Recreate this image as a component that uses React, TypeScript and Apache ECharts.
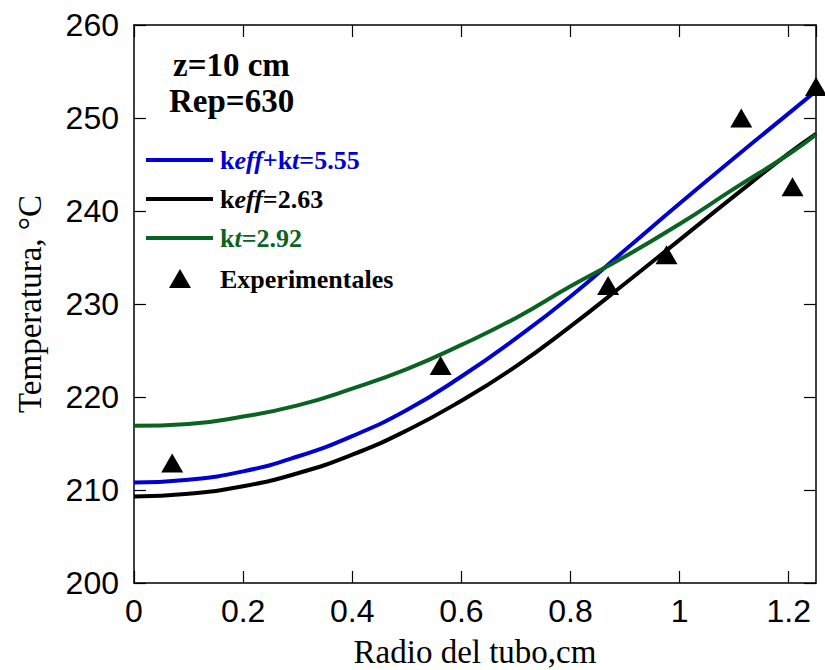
import React, { useEffect, useRef } from "react";
import * as echarts from "echarts";

// Radius (cm) for the model curves
const radius = [0, 0.1, 0.2, 0.3, 0.4, 0.5, 0.6, 0.7, 0.8, 0.9, 1.0, 1.1, 1.2, 1.25];
// keff+kt=5.55 (blue)
const tempKeffKt = [210.8, 211.1, 212.0, 213.6, 215.8, 218.6, 222.2, 226.3, 230.8, 235.8, 240.8, 245.7, 250.5, 252.9];
// keff=2.63 (black)
const tempKeff = [209.3, 209.6, 210.4, 211.8, 213.8, 216.4, 219.6, 223.3, 227.6, 232.2, 236.9, 241.6, 246.2, 248.3];
// kt=2.92 (green)
const tempKt = [216.9, 217.1, 217.9, 219.1, 220.9, 223.0, 225.6, 228.5, 231.9, 235.1, 238.6, 242.4, 246.1, 248.2];
// Experimental points
const expRadius = [0.07, 0.562, 0.869, 0.976, 1.113, 1.207, 1.25];
const expTemp = [212.9, 223.4, 232.0, 235.3, 250.0, 242.6, 253.4];

const seriesNames = ["keff+kt=5.55", "keff=2.63", "kt=2.92", "Experimentales"];
const annotations = ["z=10 cm", "Rep=630"];

const BLUE = "#0000d2";
const BLACK = "#000000";
const GREEN = "#0b6322";
const SERIF = '"Liberation Serif", "Times New Roman", serif';
const SANS = '"Liberation Sans", Arial, sans-serif';

const pair = (xs: number[], ys: number[]) => xs.map((x, i) => [x, ys[i]]);

export default function App() {
  const ref = useRef<HTMLDivElement>(null);
  useEffect(() => {
    if (!ref.current) return;
    const chart = echarts.init(ref.current, null, { renderer: "svg" });
    const axisCommon = {
      axisLine: { show: true, onZero: false, lineStyle: { color: "#000", width: 1.5 } },
      axisTick: { show: true, inside: true, length: 12, lineStyle: { color: "#000", width: 1.2 } },
      splitLine: { show: false },
    };
    const xFmt = (v: number) => {
      const k = v / 0.2;
      if (Math.abs(k - Math.round(k)) > 1e-6) return "";
      return String(Math.round(v * 10) / 10);
    };
    const legendText = (y: number, text: string, rich: any, fill: string) => ({
      type: "text",
      x: 220,
      y,
      style: {
        text,
        rich,
        fill,
        fontFamily: SERIF,
        fontSize: 26,
        fontWeight: "bold",
        align: "left",
        verticalAlign: "middle",
        textAlign: "left",
        textVerticalAlign: "middle",
      },
    });
    const richFor = (fill: string) => ({
      n: { fill, color: fill, fontFamily: SERIF, fontSize: 26, fontWeight: "bold", fontStyle: "normal" },
      i: { fill, color: fill, fontFamily: SERIF, fontSize: 26, fontWeight: "bold", fontStyle: "italic" },
    });
    const annotation = (x: number, y: number, text: string) => ({
      type: "text",
      x,
      y,
      style: {
        text,
        fill: "#000",
        fontFamily: SERIF,
        fontSize: 33,
        fontWeight: "bold",
        align: "left",
        verticalAlign: "middle",
        textAlign: "left",
        textVerticalAlign: "middle",
      },
    });
    chart.setOption({
      animation: false,
      backgroundColor: "#fff",
      grid: { left: 134, right: 9, top: 25, bottom: 87, containLabel: false, outerBoundsMode: "none" },
      xAxis: [
        {
          type: "value",
          min: 0,
          max: 1.25,
          interval: 0.2,
          position: "bottom",
          ...axisCommon,
          axisLabel: {
            show: true,
            formatter: xFmt,
            fontSize: 32,
            fontFamily: SANS,
            color: "#000",
            margin: 12,
            showMaxLabel: false,
          },
          name: "Radio del tubo,cm",
          nameLocation: "middle",
          nameGap: 52,
          nameTextStyle: { fontFamily: SERIF, fontSize: 33, color: "#000", lineHeight: 33 },
        },
        {
          type: "value",
          min: 0,
          max: 1.25,
          interval: 0.2,
          position: "top",
          ...axisCommon,
          axisLabel: { show: false },
        },
      ],
      yAxis: [
        {
          type: "value",
          min: 200,
          max: 260,
          interval: 10,
          position: "left",
          ...axisCommon,
          axisLabel: { show: true, fontSize: 32, fontFamily: SANS, color: "#000", margin: 15 },
          name: "Temperatura, °C",
          nameLocation: "middle",
          nameGap: 88,
          nameRotate: 90,
          nameTextStyle: { fontFamily: SERIF, fontSize: 33, color: "#000" },
        },
        {
          type: "value",
          min: 200,
          max: 260,
          interval: 10,
          position: "right",
          ...axisCommon,
          axisLabel: { show: false },
        },
      ],
      series: [
        {
          name: seriesNames[0],
          type: "line",
          data: pair(radius, tempKeffKt),
          smooth: true,
          showSymbol: false,
          lineStyle: { color: BLUE, width: 4 },
          itemStyle: { color: BLUE },
          z: 3,
        },
        {
          name: seriesNames[1],
          type: "line",
          data: pair(radius, tempKeff),
          smooth: true,
          showSymbol: false,
          lineStyle: { color: BLACK, width: 4 },
          itemStyle: { color: BLACK },
          z: 3,
        },
        {
          name: seriesNames[2],
          type: "line",
          data: pair(radius, tempKt),
          smooth: true,
          showSymbol: false,
          lineStyle: { color: GREEN, width: 4 },
          itemStyle: { color: GREEN },
          z: 3,
        },
        {
          name: seriesNames[3],
          type: "scatter",
          data: pair(expRadius, expTemp),
          symbol: "triangle",
          symbolSize: [22, 19],
          itemStyle: { color: "#000", opacity: 1 },
          clip: false,
          z: 5,
        },
      ],
      graphic: [
        annotation(173, 65, annotations[0]),
        annotation(169, 101, annotations[1]),
        { type: "line", shape: { x1: 146, y1: 160, x2: 213, y2: 160 }, style: { stroke: BLUE, lineWidth: 4 } },
        legendText(160, "{n|k}{i|eff}{n|+k}{i|t}{n|=5.55}", richFor(BLUE), BLUE),
        { type: "line", shape: { x1: 146, y1: 199, x2: 213, y2: 199 }, style: { stroke: BLACK, lineWidth: 4 } },
        legendText(199, "{n|k}{i|eff}{n|=2.63}", richFor(BLACK), BLACK),
        { type: "line", shape: { x1: 146, y1: 238, x2: 213, y2: 238 }, style: { stroke: GREEN, lineWidth: 4 } },
        legendText(238, "{n|k}{i|t}{n|=2.92}", richFor(GREEN), GREEN),
        {
          type: "polygon",
          shape: { points: [[169, 288], [191, 288], [180, 269]] },
          style: { fill: "#000" },
        },
        legendText(279, "{n|Experimentales}", richFor(BLACK), BLACK),
      ],
    });
    return () => chart.dispose();
  }, []);
  return (
    <div
      ref={ref}
      style={{ position: "fixed", left: 0, top: 0, width: 825, height: 670, background: "#fff" }}
    />
  );
}
